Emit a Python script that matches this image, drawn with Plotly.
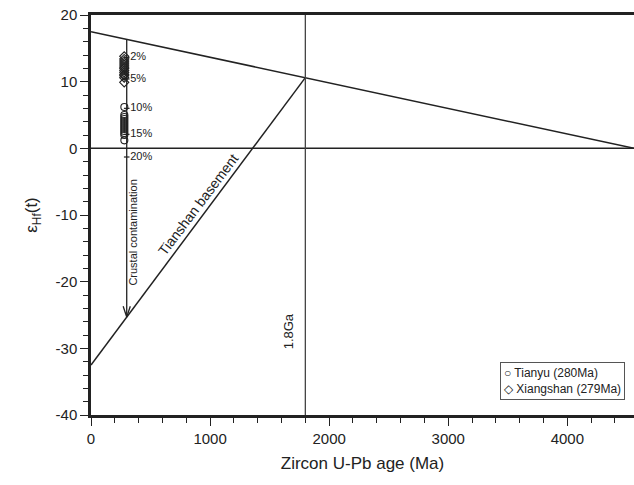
import plotly.graph_objects as go

# ---- data ----
tianyu_age = [280] * 13
tianyu_ehf = [6.2, 5.0, 4.7, 4.4, 4.1, 3.8, 3.5, 3.2, 2.9, 2.6, 2.3, 2.0, 1.2]
xiang_age = [279] * 13
xiang_ehf = [13.8, 13.4, 13.1, 12.8, 12.5, 12.2, 12.0, 11.7, 11.4, 11.1, 10.9, 10.6, 9.9]

dm_age = [0, 4560]
dm_ehf = [17.5, 0.0]
chur_age = [0, 4560]
chur_ehf = [0, 0]
basement_age = [0, 1800]
basement_ehf = [-32.5, 10.6]
ga_line_age = [1800, 1800]
ga_line_ehf = [-40, 20]

contam_age = 300
contam_top = 16.35
contam_bottom = -25.3
contam_pct = ["2%", "5%", "10%", "15%", "20%"]
contam_eps = [13.6, 10.4, 6.0, 2.1, -1.3]

x_ticks = [0, 1000, 2000, 3000, 4000]
y_ticks = [-40, -30, -20, -10, 0, 10, 20]
y_ticklabels = ["-40", "-30", "-20", "-10", "0", "10", "20"]

legend_lines = ["○ Tianyu (280Ma)", "◇ Xiangshan (279Ma)"]

x_range = [0, 4560]
y_range = [-40, 20]

FONT = "Liberation Sans, Arial, Helvetica, sans-serif"
INK = "#222222"

fig = go.Figure()
line_style = dict(color=INK, width=1.5)
for xs, ys in [(dm_age, dm_ehf), (chur_age, chur_ehf), (basement_age, basement_ehf)]:
    fig.add_trace(go.Scatter(x=xs, y=ys, mode="lines", line=line_style,
                             showlegend=False, hoverinfo="skip"))
fig.add_trace(go.Scatter(x=ga_line_age, y=ga_line_ehf, mode="lines",
                         line=dict(color="#444444", width=1.3),
                         showlegend=False, hoverinfo="skip"))

# contamination arrow
fig.add_trace(go.Scatter(x=[contam_age, contam_age], y=[contam_top, contam_bottom],
                         mode="lines", line=dict(color=INK, width=1.3),
                         showlegend=False, hoverinfo="skip"))
fig.add_trace(go.Scatter(x=[contam_age - 30, contam_age, contam_age + 30],
                         y=[contam_bottom + 1.6, contam_bottom, contam_bottom + 1.6],
                         mode="lines", line=dict(color=INK, width=1.3),
                         showlegend=False, hoverinfo="skip"))
fig.add_trace(go.Scatter(x=[contam_age] * len(contam_eps), y=contam_eps, mode="markers+text",
                         marker=dict(symbol="line-ew", size=4, line=dict(color=INK, width=1.2)),
                         text=contam_pct, textposition="middle right",
                         textfont=dict(family=FONT, size=11, color=INK),
                         showlegend=False, hoverinfo="skip"))

# data points
fig.add_trace(go.Scatter(x=tianyu_age, y=tianyu_ehf, mode="markers", name="Tianyu (280Ma)",
                         showlegend=False,
                         marker=dict(symbol="circle-open", size=7, color=INK,
                                     line=dict(width=1.1, color=INK))))
fig.add_trace(go.Scatter(x=xiang_age, y=xiang_ehf, mode="markers", name="Xiangshan (279Ma)",
                         showlegend=False,
                         marker=dict(symbol="diamond-open", size=7, color=INK,
                                     line=dict(width=1.1, color=INK))))

fig.add_annotation(x=contam_age + 55, y=-12.6,
                   text="Crustal contamination", textangle=-90, showarrow=False,
                   font=dict(family=FONT, size=11, color=INK))
fig.add_annotation(x=905, y=-8.4, text="Tianshan basement", textangle=-53,
                   showarrow=False, font=dict(family=FONT, size=14, color=INK))
fig.add_annotation(x=1660, y=-27.5, text="1.8Ga", textangle=-90, showarrow=False,
                   font=dict(family=FONT, size=13, color=INK))

# legend box
fig.add_annotation(xref="paper", yref="paper", x=0.983, y=0.038,
                   xanchor="right", yanchor="bottom", align="left",
                   text="<br>".join(legend_lines), showarrow=False,
                   bordercolor="#555555", borderwidth=1, borderpad=3, bgcolor="white",
                   font=dict(family=FONT, size=12, color=INK))

fig.update_layout(
    width=634, height=485,
    margin=dict(l=91, r=0, t=15, b=70),
    paper_bgcolor="white", plot_bgcolor="white",
    font=dict(family=FONT, size=15, color=INK),
    showlegend=False,
    xaxis=dict(range=x_range, tickmode="array", tickvals=x_ticks,
               ticks="outside", ticklen=8, tickwidth=1.3, tickcolor=INK,
               minor=dict(tickmode="array", tickvals=[v for v in range(200, 4560, 200) if v % 1000],
                          ticks="outside", ticklen=5, tickwidth=1.3, tickcolor=INK, showgrid=False),
               showline=True, linewidth=2.5, linecolor=INK, mirror=True,
               showgrid=False, zeroline=False,
               title=dict(text="Zircon U-Pb age (Ma)", font=dict(size=17), standoff=12),
               tickfont=dict(size=15)),
    yaxis=dict(range=y_range, tickmode="array", tickvals=y_ticks, ticktext=y_ticklabels,
               ticks="outside", ticklen=8, tickwidth=1.3, tickcolor=INK,
               minor=dict(tickmode="array", tickvals=[v for v in range(-38, 20, 2) if v % 10],
                          ticks="outside", ticklen=5, tickwidth=1.3, tickcolor=INK, showgrid=False),
               showline=True, linewidth=2.5, linecolor=INK, mirror=False,
               showgrid=False, zeroline=False,
               title=dict(text="ε<sub>Hf</sub>(t)", font=dict(size=17), standoff=14),
               tickfont=dict(size=15)),
)

fig.write_html("out.html")
